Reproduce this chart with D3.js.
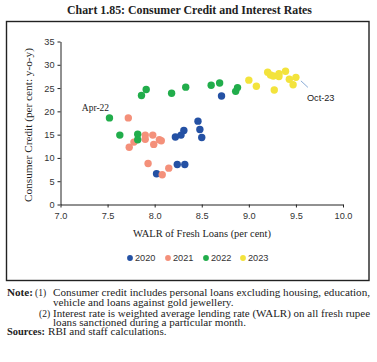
<!DOCTYPE html>
<html><head><meta charset="utf-8">
<script src="https://cdn.jsdelivr.net/npm/d3@7"></script>
<style>body{margin:0;background:#fff;} svg{display:block;}</style>
</head><body>
<script>
const years = ["2020","2021","2022","2023"];
const colors = ["#2451a4","#f4907a","#21ad4b","#f3e33c"];
const walr2020 = [8.46,8.48,8.50,8.31,8.28,8.22,8.24,8.32,8.02,8.71];
const credit2020 = [17.9,16.1,14.4,15.9,14.9,14.5,8.6,8.6,6.6,23.3];
const walr2021 = [7.72,7.73,7.78,7.90,7.90,7.98,7.99,8.05,8.07,7.93,8.08,8.15];
const credit2021 = [18.6,12.3,13.4,14.9,14.0,14.9,12.9,13.9,13.7,8.8,6.4,7.8];
const walr2022 = [7.52,7.63,7.82,7.82,7.86,7.91,8.18,8.33,8.60,8.69,8.86,8.88];
const credit2022 = [18.6,14.9,15.1,13.9,23.4,24.7,23.9,25.2,25.6,26.1,24.3,25.1];
const walr2023 = [9.00,9.08,9.27,9.20,9.23,9.26,9.32,9.32,9.39,9.43,9.47,9.50];
const credit2023 = [26.7,25.4,24.6,28.4,27.8,27.6,28.1,27.5,28.6,26.9,25.7,27.3];
const xTicks = [7.0,7.5,8.0,8.5,9.0,9.5,10.0];
const yTicks = [0,5,10,15,20,25,30,35];
const annotations = [{label:"Apr-22", x:7.52, y:18.6},{label:"Oct-23", x:9.50, y:27.3}];

const series = [
  {year:years[0], color:colors[0], xs:walr2020, ys:credit2020},
  {year:years[1], color:colors[1], xs:walr2021, ys:credit2021},
  {year:years[2], color:colors[2], xs:walr2022, ys:credit2022},
  {year:years[3], color:colors[3], xs:walr2023, ys:credit2023}
];

const W=377,H=362;
const svg=d3.select("body").append("svg").attr("width",W).attr("height",H);
const serif="'Liberation Serif','DejaVu Serif',serif";
const sans="'Liberation Sans','DejaVu Sans',sans-serif";

svg.append("text").attr("x",189.5).attr("y",13.5).attr("text-anchor","middle")
  .attr("font-family",serif).attr("font-weight","bold").attr("font-size",11.5)
  .attr("fill","#222").attr("textLength",245).attr("lengthAdjust","spacingAndGlyphs")
  .text("Chart 1.85: Consumer Credit and Interest Rates");

svg.append("rect").attr("x",6.5).attr("y",21.5).attr("width",362.5).attr("height",259)
  .attr("fill","none").attr("stroke","#222").attr("stroke-width",1.4);

const x=d3.scaleLinear().domain([7,10]).range([60.5,343]);
const y=d3.scaleLinear().domain([0,35]).range([204.5,41.5]);

const xAxis=svg.append("g").attr("transform","translate(0,204.5)")
  .call(d3.axisBottom(x).tickValues(xTicks).tickFormat(d3.format(".1f")).tickSize(3).tickSizeOuter(0));
const yAxis=svg.append("g").attr("transform","translate(60.5,0)")
  .call(d3.axisLeft(y).tickValues(yTicks).tickSize(3).tickSizeOuter(0));
[xAxis,yAxis].forEach(g=>{
  g.select(".domain").attr("stroke","#222").attr("stroke-width",1);
  g.selectAll(".tick line").attr("stroke","#222");
  g.selectAll(".tick text").attr("font-family",sans).attr("font-size",9.2).attr("fill","#333");
});
xAxis.selectAll(".tick text").attr("dy","0.95em");
yAxis.selectAll(".tick text").attr("x",-6);

svg.append("text").attr("x",202).attr("y",236.5).attr("text-anchor","middle")
  .attr("font-family",serif).attr("font-size",9.5).attr("fill","#222")
  .attr("textLength",138).attr("lengthAdjust","spacingAndGlyphs")
  .text("WALR of Fresh Loans (per cent)");
svg.append("text").attr("transform","translate(31.5,125) rotate(-90)").attr("text-anchor","middle")
  .attr("font-family",serif).attr("font-size",9.5).attr("fill","#222")
  .attr("textLength",154).attr("lengthAdjust","spacingAndGlyphs")
  .text("Consumer Credit (per cent: y-o-y)");

const pts=svg.append("g");
series.forEach(s=>{
  pts.selectAll(null).data(s.xs.map((v,i)=>[v,s.ys[i]])).enter().append("circle")
    .attr("cx",d=>x(d[0])).attr("cy",d=>y(d[1])).attr("r",3.7).attr("fill",s.color);
});

// annotations
const a1=annotations[0];
svg.append("text").attr("x",x(a1.x)-14).attr("y",y(a1.y)-7).attr("text-anchor","middle")
  .attr("font-family",serif).attr("font-size",9.5).attr("fill","#222").text(a1.label);
const a2=annotations[1];
svg.append("line").attr("x1",x(a2.x)+5).attr("y1",y(a2.y)+3.5).attr("x2",x(a2.x)+12).attr("y2",y(a2.y)+10)
  .attr("stroke","#7aa0d0").attr("stroke-width",0.9);
svg.append("text").attr("x",x(a2.x)+11).attr("y",y(a2.y)+24).attr("text-anchor","start")
  .attr("font-family",sans).attr("font-size",9.2).attr("fill","#222").text(a2.label);

// legend
const legX=[130,168,206,243];
const lg=svg.append("g");
series.forEach((s,i)=>{
  lg.append("circle").attr("cx",legX[i]).attr("cy",258).attr("r",2.9).attr("fill",s.color);
  lg.append("text").attr("x",legX[i]+5).attr("y",261.3).attr("font-family",sans).attr("font-size",9.2)
    .attr("fill","#333").text(s.year);
});

// notes
const notes=[
  {t:"Consumer credit includes personal loans excluding housing, education,", x:53, y:296},
  {t:"vehicle and loans against gold jewellery.", x:53, y:306},
  {t:"Interest rate is weighted average lending rate (WALR) on all fresh rupee", x:53, y:316.5},
  {t:"loans sanctioned during a particular month.", x:53, y:326},
  {t:"RBI and staff calculations.", x:48, y:335}
];
const nf=svg.append("g").attr("font-family",serif).attr("font-size",9.5).attr("fill","#222");
const nodes=notes.map(n=>nf.append("text").attr("x",n.x).attr("y",n.y).text(n.t));
const ratio=(370-53)/nodes[0].node().getComputedTextLength();
nodes.forEach((nd,i)=>{
  const L=(i===2)?(370-53):nd.node().getComputedTextLength()*ratio;
  nd.attr("textLength",L).attr("lengthAdjust","spacingAndGlyphs");
});
nf.append("text").attr("x",7).attr("y",296).attr("font-weight","bold").attr("textLength",26).attr("lengthAdjust","spacingAndGlyphs").text("Note:");
nf.append("text").attr("x",35).attr("y",296).text("(1)");
nf.append("text").attr("x",39).attr("y",316.5).text("(2)");
nf.append("text").attr("x",7).attr("y",335).attr("font-weight","bold").attr("textLength",38).attr("lengthAdjust","spacingAndGlyphs").text("Sources:");
</script>
</body></html>
